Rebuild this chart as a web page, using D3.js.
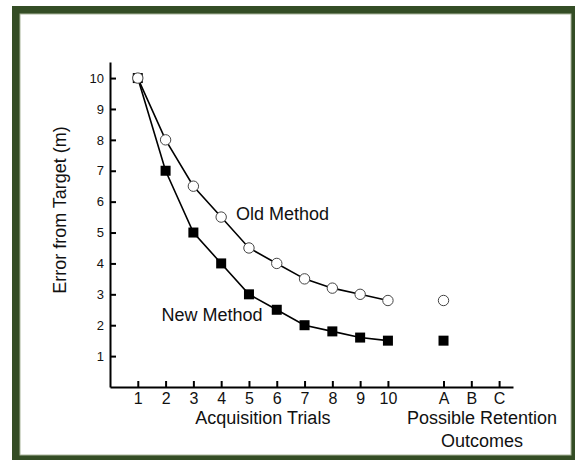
<!DOCTYPE html>
<html>
<head>
<meta charset="utf-8">
<script src="https://cdn.jsdelivr.net/npm/d3@7"></script>
<style>
  html, body { margin: 0; padding: 0; background: #fff; }
  svg { display: block; font-family: Arial, "Liberation Sans", Helvetica, sans-serif; }
</style>
</head>
<body>
<svg id="chart" width="575" height="460"></svg>
<script>
// Trials 1-10 during acquisition, plus the retention slots A, B, C
const trials = [1, 2, 3, 4, 5, 6, 7, 8, 9, 10];
const oldMethod = [10, 8, 6.5, 5.5, 4.5, 4.0, 3.5, 3.2, 3.0, 2.8];
const newMethod = [10, 7, 5, 4, 3, 2.5, 2.0, 1.8, 1.6, 1.5];
const retentionLabels = ["A", "B", "C"];
const retentionPos = [12, 13, 14];
const oldRetention = [{ slot: "A", value: 2.8 }];
const newRetention = [{ slot: "A", value: 1.5 }];
const yTicks = [1, 2, 3, 4, 5, 6, 7, 8, 9, 10];

const svg = d3.select("#chart");

// Framed panel
svg.append("rect").attr("x", 12).attr("y", 6).attr("width", 575).attr("height", 460)
  .attr("fill", "#344d25");
svg.append("rect").attr("x", 20).attr("y", 14).attr("width", 551).attr("height", 441)
  .attr("fill", "#fff").attr("stroke", "#aab59c").attr("stroke-width", 1);

const x = d3.scaleLinear().domain([0, 14.5]).range([110, 513]);
const y = d3.scaleLinear().domain([0, 10.52]).range([387, 62]);

const slotX = Object.fromEntries(retentionLabels.map((l, i) => [l, retentionPos[i]]));

// X axis: numeric trials plus lettered retention outcomes
const xAxis = d3.axisBottom(x)
  .tickValues(trials.concat(retentionPos))
  .tickFormat(d => d <= 10 ? String(d) : retentionLabels[retentionPos.indexOf(d)])
  .tickSizeInner(-6).tickSizeOuter(0).tickPadding(6);
const gx = svg.append("g").attr("transform", "translate(0,387)").call(xAxis);
gx.select(".domain").attr("stroke", "#000").attr("stroke-width", 2);
gx.selectAll(".tick line").attr("stroke", "#000").attr("stroke-width", 2);
gx.selectAll(".tick text").attr("font-size", 16).attr("fill", "#111")
  .attr("font-family", "Arial, 'Liberation Sans', sans-serif");

// Y axis
const yAxis = d3.axisLeft(y).tickValues(yTicks).tickSizeInner(-6).tickSizeOuter(0).tickPadding(6);
const gy = svg.append("g").attr("transform", "translate(110,0)").call(yAxis);
gy.select(".domain").attr("stroke", "#000").attr("stroke-width", 2);
gy.selectAll(".tick line").attr("stroke", "#000").attr("stroke-width", 2);
gy.selectAll(".tick text").attr("font-size", 13).attr("fill", "#111")
  .attr("font-family", "Arial, 'Liberation Sans', sans-serif");

// Axis titles
svg.append("text").attr("x", x(5.5)).attr("y", 424).attr("text-anchor", "middle")
  .attr("font-size", 18).attr("fill", "#111").text("Acquisition Trials");
svg.append("text").attr("x", 482).attr("y", 424).attr("text-anchor", "middle")
  .attr("font-size", 18).attr("fill", "#111").text("Possible Retention");
svg.append("text").attr("x", 482).attr("y", 446.5).attr("text-anchor", "middle")
  .attr("font-size", 18).attr("fill", "#111").text("Outcomes");
svg.append("text").attr("transform", "translate(66,210) rotate(-90)").attr("text-anchor", "middle")
  .attr("font-size", 18).attr("fill", "#111").text("Error from Target (m)");

// Lines
const line = d3.line().x(d => x(d[0])).y(d => y(d[1]));
const newPts = trials.map((t, i) => [t, newMethod[i]]);
const oldPts = trials.map((t, i) => [t, oldMethod[i]]);
svg.append("path").attr("d", line(newPts)).attr("fill", "none")
  .attr("stroke", "#000").attr("stroke-width", 1.6);
svg.append("path").attr("d", line(oldPts)).attr("fill", "none")
  .attr("stroke", "#000").attr("stroke-width", 1.6);

// New method: filled squares
const sq = 10;
const newAll = newPts.concat(newRetention.map(r => [slotX[r.slot], r.value]));
svg.append("g").selectAll("rect").data(newAll).join("rect")
  .attr("x", d => x(d[0]) - sq / 2).attr("y", d => y(d[1]) - sq / 2)
  .attr("width", sq).attr("height", sq).attr("fill", "#000");

// Old method: open circles
const oldAll = oldPts.concat(oldRetention.map(r => [slotX[r.slot], r.value]));
svg.append("g").selectAll("circle").data(oldAll).join("circle")
  .attr("cx", d => x(d[0])).attr("cy", d => y(d[1])).attr("r", 5.2)
  .attr("fill", "#fff").attr("stroke", "#444").attr("stroke-width", 1);

// Series labels
svg.append("text").attr("x", 236).attr("y", 219.5).attr("font-size", 18).attr("fill", "#111").text("Old Method");
svg.append("text").attr("x", 161.5).attr("y", 321).attr("font-size", 18).attr("fill", "#111").text("New Method");
</script>
</body>
</html>
